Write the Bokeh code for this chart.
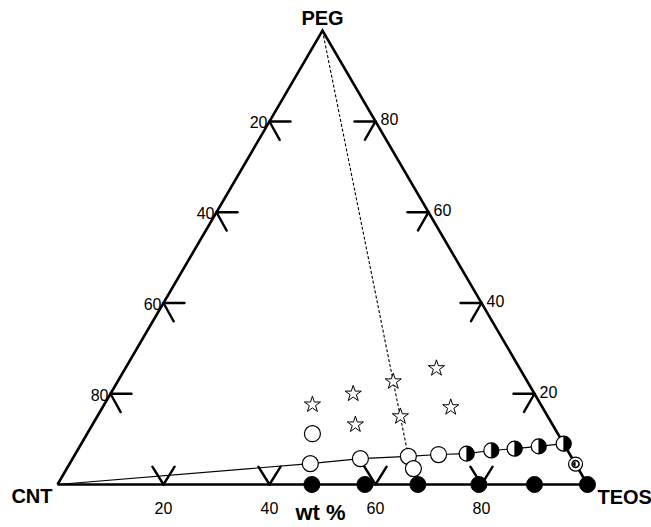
import math
from bokeh.plotting import figure
from bokeh.models import Range1d
from bokeh.core.properties import value
from bokeh.embed import file_html
from bokeh.resources import INLINE

# ---------------- data (ternary wt %: TEOS, PEG; CNT = 100 - TEOS - PEG) -------------
tick_values = [20, 40, 60, 80]
tick_labels = ["20", "40", "60", "80"]
vertex_names = ["CNT", "TEOS", "PEG"]
axis_title = "wt %"

# filled circles: CNT/TEOS binary (PEG = 0)
filled_teos = [48, 58, 68, 79.5, 90, 100]
filled_peg = [0, 0, 0, 0, 0, 0]

# open circles along the thin line
line_open_teos = [45.4, 54.3, 63.1, 68.6]
line_open_peg = [4.6, 5.7, 6.2, 6.6]

# half-filled circles along the thin line
half_teos = [73.8, 78.1, 82.3, 86.6, 91.0]
half_peg = [6.8, 7.5, 7.9, 8.4, 9.0]

# other open circles
open_teos = [42.5, 65.4]
open_peg = [11.2, 3.5]

# special marker on the TEOS-PEG edge
special_teos = [95.5]
special_peg = [4.5]

# stars
star_teos = [39.3, 45.8, 49.6, 52.0, 57.2, 58.7, 65.7]
star_peg = [17.6, 20.0, 13.2, 22.7, 15.0, 25.6, 17.0]

# dashed line: from PEG apex to the third open circle on the line
dash_teos = [0, 63.1]
dash_peg = [100, 6.2]

# ---------------- helpers ----------------
R3 = math.sqrt(3) / 2


def tx(t, p):
    return [a + b / 2 for a, b in zip(t, p)]


def ty(t, p):
    return [b * R3 for b in p]


SX, SY = 5.3, 5.24  # px per data unit
W, H = 651, 527
x0 = -57 / SX
y1 = 484 / SY

p = figure(width=W, height=H, output_backend="svg", toolbar_location=None,
           x_range=Range1d(x0, x0 + W / SX), y_range=Range1d(y1 - H / SY, y1),
           min_border=0, tools="")
p.axis.visible = False
p.grid.visible = False
p.outline_line_color = None
p.background_fill_color = "white"
p.border_fill_color = "white"

# triangle
tri_t = [0, 100, 0, 0]
tri_p = [0, 0, 100, 0]
p.line(tx(tri_t, tri_p), ty(tri_t, tri_p), line_color="black", line_width=2.6,
       line_join="miter")

# tick arms
L = 21


def arms(px, py, angles):
    xs0, ys0, xs1, ys1 = [], [], [], []
    for X, Y in zip(px, py):
        for a in angles:
            xs0.append(X)
            ys0.append(Y)
            xs1.append(X + L * math.cos(math.radians(a)) / SX)
            ys1.append(Y + L * math.sin(math.radians(a)) / SY)
    return xs0, ys0, xs1, ys1


# bottom (TEOS %)
bt = tick_values
bp = [0] * 4
bx, by = tx(bt, bp), ty(bt, bp)
# left (CNT %): CNT = v on left edge -> PEG = 100 - v
lt = [0] * 4
lp = [100 - v for v in tick_values]
lx, ly = tx(lt, lp), ty(lt, lp)
# right (PEG %)
rt = [100 - v for v in tick_values]
rp = tick_values
rx, ry = tx(rt, rp), ty(rt, rp)

for (X, Y, angs) in [(bx, by, [58, 122]), (lx, ly, [0, -61]), (rx, ry, [180, 240])]:
    a, b, c, d = arms(X, Y, angs)
    p.segment(a, b, c, d, line_color="black", line_width=2.4, line_cap="round")

lab_font = value("Liberation Sans")
p.text(bx, by, text=tick_labels, text_align="center", text_baseline="middle",
       y_offset=23, text_font=lab_font, text_font_size="16px", text_color="black")
p.text(lx, ly, text=tick_labels, text_align="right", text_baseline="middle",
       x_offset=-2, y_offset=1, text_font=lab_font, text_font_size="16px", text_color="black")
p.text(rx, ry, text=tick_labels, text_align="left", text_baseline="middle",
       x_offset=5, y_offset=-2, text_font=lab_font, text_font_size="16px", text_color="black")

# vertex labels
vt = [0, 100, 0]
vp = [0, 0, 100]
vx, vy = tx(vt, vp), ty(vt, vp)
p.text([vx[0]], [vy[0]], text=[vertex_names[0]], text_align="right", text_baseline="middle",
       x_offset=-5, y_offset=11, text_font=lab_font, text_font_size="20px", text_font_style="bold")
p.text([vx[1]], [vy[1]], text=[vertex_names[1]], text_align="left", text_baseline="middle",
       x_offset=10, y_offset=12, text_font=lab_font, text_font_size="20px", text_font_style="bold")
p.text([vx[2]], [vy[2]], text=[vertex_names[2]], text_align="center", text_baseline="middle",
       x_offset=0, y_offset=-13, text_font=lab_font, text_font_size="20px", text_font_style="bold")
mt = [50]
mp = [0]
p.text(tx(mt, mp), ty(mt, mp), text=[axis_title], text_align="center", text_baseline="middle",
       x_offset=-2, y_offset=28, text_font=lab_font, text_font_size="22px", text_font_style="bold")

# dashed line
p.line(tx(dash_teos, dash_peg), ty(dash_teos, dash_peg), line_color="black",
       line_width=1.1, line_dash="3 2")

# thin line from CNT through the open and half circles
ln_t = [0] + line_open_teos + half_teos
ln_p = [0] + line_open_peg + half_peg
p.line(tx(ln_t, ln_p), ty(ln_t, ln_p), line_color="black", line_width=1.1)

# filled circles
p.scatter(tx(filled_teos, filled_peg), ty(filled_teos, filled_peg), marker="circle", size=16,
          fill_color="black", line_color="black")

# open circles
ot = line_open_teos + open_teos
op = line_open_peg + open_peg
p.scatter(tx(ot, op), ty(ot, op), marker="circle", size=16, fill_color="white",
          line_color="black", line_width=1.2)

# half circles
hx, hy = tx(half_teos, half_peg), ty(half_teos, half_peg)
p.scatter(hx, hy, marker="circle", size=15, fill_color="white", line_color="black", line_width=1.2)
p.wedge(hx, hy, radius=7.5, radius_units="screen", start_angle=-math.pi / 2,
        end_angle=math.pi / 2, fill_color="black", line_color="black", line_width=0.5)

# special marker
sx, sy = tx(special_teos, special_peg), ty(special_teos, special_peg)
p.scatter(sx, sy, marker="circle", size=14, fill_color="white", line_color="black", line_width=1.2)
p.scatter(sx, sy, marker="circle", size=7, fill_color="white", line_color="black", line_width=1.5)
p.wedge(sx, sy, radius=2.5, radius_units="screen", start_angle=math.pi / 2,
        end_angle=3 * math.pi / 2, fill_color="black", line_color=None)

# stars
p.scatter(tx(star_teos, star_peg), ty(star_teos, star_peg), marker="star", size=17,
          fill_color="white", line_color="black", line_width=1)

open("out.html", "w").write(file_html(p, INLINE))
